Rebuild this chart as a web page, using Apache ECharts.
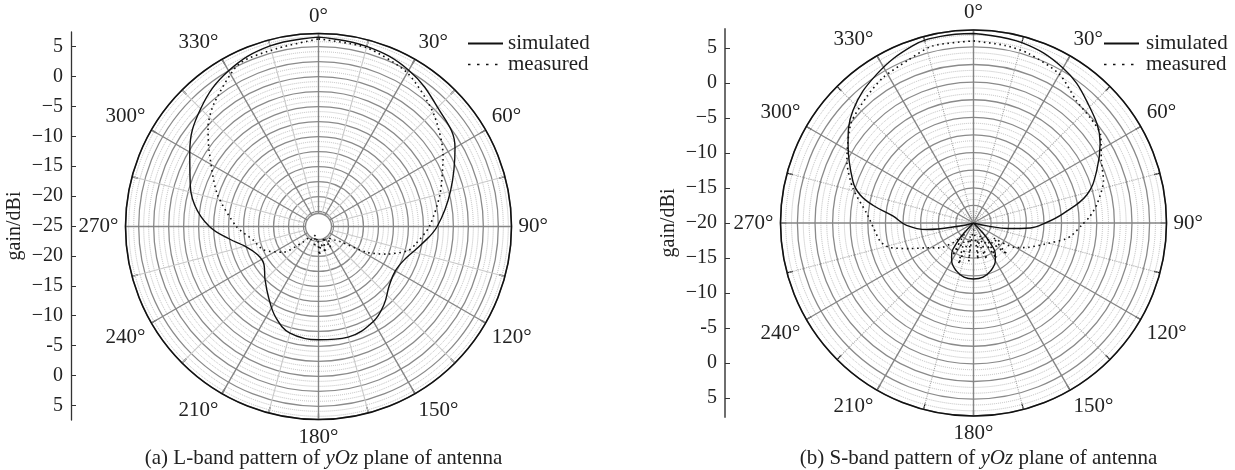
<!DOCTYPE html>
<html>
<head>
<meta charset="utf-8">
<script src="https://cdn.jsdelivr.net/npm/echarts@6/dist/echarts.min.js"></script>
<style>
  html, body { margin: 0; padding: 0; background: #fff; }
  #main { width: 1235px; height: 470px; }
</style>
</head>
<body>
<div id="main"></div>
<script>
// L-band, yOz plane (angle in degrees, gain in dBi)
var lSimAngles = [0, 15, 30, 45, 60, 75, 90, 100, 110, 120, 130, 140, 150, 165, 180, 195, 205, 215, 225, 235, 245, 255, 262, 270, 280, 290, 300, 315, 330, 345, 360];
var lSimGain   = [6.6, 6.1, 5.1, 3.1, 1.3, -2.2, -5.2, -7.6, -9.5, -10.2, -9.6, -8.0, -6.7, -5.9, -6.1, -6.6, -8.2, -10.5, -12.4, -13.9, -13.8, -12.3, -10.0, -6.8, -4.0, -2.2, -0.2, 2.8, 5.0, 6.2, 6.6];
var lMeasAngles = [0, 15, 30, 45, 60, 75, 90, 100, 105, 112, 118, 125, 130, 140, 150, 158, 165, 172, 178, 185, 192, 200, 210, 218, 225, 234, 247, 258, 270, 288, 305, 312, 320, 334, 347, 360];
var lMeasGain   = [6.3, 5.9, 4.6, 2.0, -1.0, -4.0, -6.5, -8.5, -9.5, -12.7, -15.8, -20.6, -21.5, -22.5, -21.0, -23.0, -20.5, -22.0, -20.2, -23.0, -21.5, -23.5, -22.5, -22.7, -21.3, -17.7, -15.0, -13.9, -11.3, -7.2, -2.7, -0.2, 2.0, 5.2, 5.5, 6.3];

// S-band, yOz plane
var sSimAngles = [0, 15, 30, 43, 58, 67, 76, 84, 90, 95, 99, 102, 106, 135, 137, 140, 145, 150, 160, 170, 180, 190, 200, 210, 215, 220, 223, 225, 255, 257.5, 262, 268, 275, 280, 284, 289, 302, 313, 327, 341, 350, 360];
var sSimGain   = [6.9, 6.5, 5.4, 3.6, 1.2, -1.0, -3.4, -7.2, -9.8, -11.9, -15.0, -18.0, -20, -20, -18.0, -16.3, -14.6, -13.8, -12.8, -12.2, -12.05, -12.2, -12.8, -13.8, -14.6, -16.3, -18.0, -20, -20, -18.0, -13.3, -10.5, -8.5, -5.5, -3.4, -1.9, 1.0, 3.4, 5.2, 6.6, 6.9, 6.9];
var sMeasAngles = [0, 10, 18, 30, 40, 48, 55, 64, 72, 81, 87, 91, 97, 100, 107, 114, 120, 127, 133, 140, 147, 153, 160, 167, 173, 180, 187, 193, 200, 207, 213, 220, 226, 234, 242, 248, 254, 259, 267, 275, 286, 296, 309, 320, 328, 338, 347, 360];
var sMeasGain   = [5.85, 5.6, 5.3, 4.4, 2.7, 2.3, 2.0, 0.2, -0.6, -2.2, -3.5, -4.6, -5.9, -6.8, -9.6, -11.5, -13.0, -16.5, -13.5, -17.0, -14.0, -18.0, -14.5, -17.5, -14.8, -19.0, -14.5, -18.0, -13.8, -17.0, -14.5, -18.0, -16.0, -14.0, -12.5, -10.3, -7.5, -6.5, -5.8, -4.8, -2.2, 0.0, 2.4, 3.5, 4.3, 4.9, 5.8, 5.85];

// side gain scales (top to bottom)
var leftGainTicks  = [30, 25, 20, 15, 10, 5, 0, -5, -10, -15, -20, -25, -30];
var leftGainLabels = ['5', '0', '\u22125', '\u221210', '\u221215', '\u221220', '\u221225', '\u221220', '\u221215', '\u221210', '-5', '0', '5'];
var rightGainTicks  = [25, 20, 15, 10, 5, 0, -5, -10, -15, -20, -25];
var rightGainLabels = ['5', '0', '\u22125', '\u221210', '\u221215', '\u221220', '\u221215', '\u221210', '-5', '0', '5'];

var seriesNames = ['simulated', 'measured'];
var captions = ['(a) L-band pattern of {it|yOz} plane of antenna', '(b) S-band pattern of {it|yOz} plane of antenna'];

var FONT = 'Liberation Serif';
var INK = '#222';
var centers = [[318.5, 226.5], [973.5, 223]];

function pairs(angles, gains) {
  return angles.map(function (a, i) { return [gains[i], a]; });
}

function angleAxis(idx, minorType, minorColor) {
  return {
    polarIndex: idx,
    type: 'value',
    min: 0,
    max: 360,
    interval: 30,
    startAngle: 90,
    clockwise: true,
    axisLine: { lineStyle: { color: '#111', width: 1.6 } },
    axisTick: { inside: true, length: 6, lineStyle: { color: '#111', width: 1.2 } },
    minorTick: { show: true, splitNumber: 2, length: 6, lineStyle: { color: '#111', width: 1.2 } },
    axisLabel: {
      margin: 7,
      align: 'center',
      verticalAlign: 'middle',
      color: INK,
      fontFamily: FONT,
      fontSize: 21,
      formatter: function (v) { return v + '\u00b0'; }
    },
    splitLine: { lineStyle: { color: '#858585', width: 1.4 } },
    minorSplitLine: { show: true, lineStyle: { color: minorColor, width: 1.1, type: minorType } }
  };
}

function radiusAxis(idx, min, max) {
  return {
    polarIndex: idx,
    type: 'value',
    min: min,
    max: max,
    interval: 2.5,
    axisLine: { show: false },
    axisTick: { show: false },
    axisLabel: { show: false },
    minorTick: { show: false, splitNumber: 3 },
    splitLine: { lineStyle: { color: '#8a8a8a', width: 1.3 } },
    minorSplitLine: { show: true, lineStyle: { color: '#bdbdbd', width: 1, type: 'dotted' } }
  };
}

function gainAxis(idx, ext, ticks, labels) {
  return {
    gridIndex: idx,
    type: 'value',
    min: -ext,
    max: ext,
    name: 'gain/dBi',
    nameLocation: 'middle',
    nameRotate: 90,
    nameGap: 46,
    nameTextStyle: { color: INK, fontFamily: FONT, fontSize: 20 },
    axisLine: { show: true, lineStyle: { color: idx === 0 ? '#333' : '#6e6e6e', width: idx === 0 ? 1.3 : 2 } },
    axisTick: { show: true, inside: true, length: 5, customValues: ticks, lineStyle: { color: '#333' } },
    axisLabel: {
      color: INK, fontFamily: FONT, fontSize: 20, margin: 8,
      customValues: ticks,
      formatter: function (v) { return labels[ticks.indexOf(Math.round(v))]; }
    },
    splitLine: { show: false }
  };
}

function curve(name, idx, angles, gains, dotted) {
  return {
    type: 'line',
    name: name,
    coordinateSystem: 'polar',
    polarIndex: idx,
    data: pairs(angles, gains),
    smooth: dotted ? 0.25 : 0.4,
    symbol: 'none',
    z: 5,
    itemStyle: { color: '#111' },
    lineStyle: dotted
      ? { color: '#111', width: 1.6, type: [1.6, 3.6] }
      : { color: '#111', width: 1.4 }
  };
}

function legendAt(left, gap) {
  return {
    data: [
      { name: seriesNames[0] },
      { name: seriesNames[1], lineStyle: { type: [2.5, 6.5], width: 1.5 } }
    ],
    orient: 'vertical',
    left: left,
    top: 28,
    itemWidth: 35,
    itemHeight: 14,
    itemGap: 0,
    selectedMode: false,
    itemStyle: { opacity: 0 },
    textStyle: { color: INK, fontFamily: FONT, fontSize: 21, lineHeight: 20, padding: [0, 0, 0, gap] }
  };
}

function caption(text, x) {
  return {
    text: text,
    left: x,
    top: 443,
    textAlign: 'center',
    textStyle: {
      color: INK, fontFamily: FONT, fontSize: 21, fontWeight: 'normal',
      rich: { it: { fontStyle: 'italic', color: INK, fontFamily: FONT, fontSize: 21 } }
    }
  };
}

var chart = echarts.init(document.getElementById('main'), null, { renderer: 'canvas' });
chart.setOption({
  backgroundColor: '#fff',
  animation: false,
  title: [caption(captions[0], centers[0][0]), caption(captions[1], centers[1][0])],
  legend: [legendAt(462, 0), legendAt(1098, 2)],
  polar: [
    { center: centers[0], radius: 193 },
    { center: centers[1], radius: 193 }
  ],
  angleAxis: [
    angleAxis(0, 'solid', '#c9c9c9'),
    angleAxis(1, 'dotted', '#a8a8a8')
  ],
  radiusAxis: [
    radiusAxis(0, -25, 7.2),
    radiusAxis(1, -20, 7.4)
  ],
  grid: [
    { left: 71, top: 32, width: 10, height: 388 },
    { left: 725, top: 29, width: 10, height: 388 }
  ],
  xAxis: [
    { gridIndex: 0, type: 'value', show: false },
    { gridIndex: 1, type: 'value', show: false }
  ],
  yAxis: [
    gainAxis(0, 32.45, leftGainTicks, leftGainLabels),
    gainAxis(1, 27.7, rightGainTicks, rightGainLabels)
  ],
  // blank hub at the centre of the L-band grid
  graphic: [{
    type: 'circle',
    z: 1,
    shape: { cx: centers[0][0], cy: centers[0][1], r: 13 },
    style: { fill: '#fff', stroke: '#8a8a8a', lineWidth: 1.3 }
  }],
  series: [
    curve(seriesNames[0], 0, lSimAngles, lSimGain, false),
    curve(seriesNames[1], 0, lMeasAngles, lMeasGain, true),
    curve(seriesNames[0], 1, sSimAngles, sSimGain, false),
    curve(seriesNames[1], 1, sMeasAngles, sMeasGain, true)
  ]
});
</script>
</body>
</html>
